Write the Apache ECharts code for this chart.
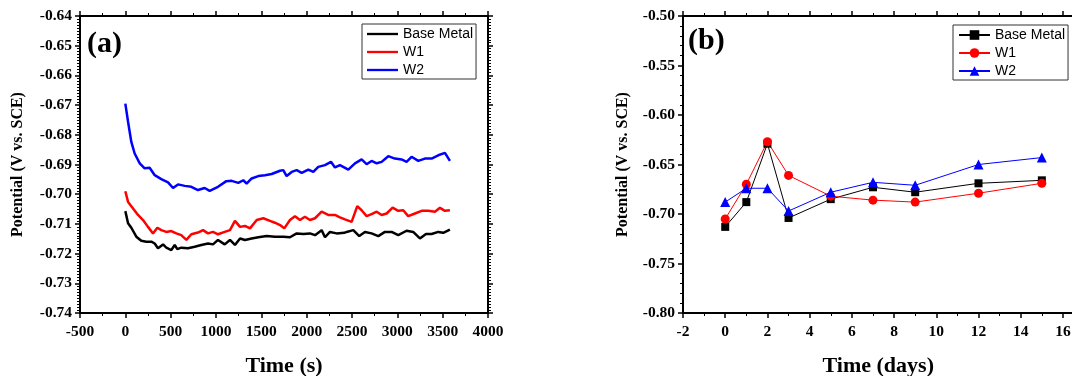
<!DOCTYPE html>
<html>
<head>
<meta charset="utf-8">
<script src="https://cdn.jsdelivr.net/npm/echarts@6/dist/echarts.min.js"></script>
<style>
  html, body { margin: 0; padding: 0; background: #fff; overflow: hidden; }
  #wrap { position: relative; width: 1072px; height: 376px; overflow: hidden; }
  #chartA { position: absolute; left: 0; top: 0; width: 536px; height: 376px; }
  #chartB { position: absolute; left: 536px; top: 0; width: 546px; height: 376px; }
</style>
</head>
<body>
<div id="wrap">
  <div id="chartA"></div>
  <div id="chartB"></div>
</div>
<script>
// ---- panel (a): open circuit potential vs time (values in mV)
const tBase = [0, 30, 66, 121, 176, 231, 287, 324, 360, 416, 452, 507, 545, 573, 617, 691, 765, 838, 912, 967,
  1022, 1096, 1154, 1209, 1265, 1320, 1393, 1467, 1559, 1650, 1742, 1816, 1890, 1963, 2036, 2092, 2165, 2202, 2257, 2331,
  2415, 2441, 2514, 2580, 2643, 2716, 2790, 2863, 2937, 3010, 3102, 3175, 3249, 3316, 3378, 3451, 3506, 3580];
const vBase = [-705.7, -709.8, -711.3, -714.3, -715.7, -716, -716, -716.6, -718.2, -716.9, -718, -718.8, -717.1, -718.5, -718, -718.2, -717.7, -717.1, -716.6, -716.9,
  -715.4, -716.9, -715.4, -717.1, -714.9, -715.4, -714.9, -714.5, -714.1, -714.3, -714.3, -714.5, -713.2, -713.4, -713.2, -713.8, -712.1, -714.5, -712.7, -713.2,
  -713, -712.7, -712.1, -714.1, -712.7, -713.2, -714.1, -712.7, -712.7, -713.8, -712.3, -712.7, -714.9, -713.4, -713.4, -712.7, -713, -711.9];

const tW1 = [0, 30, 85, 140, 195, 250, 305, 353, 397, 452, 507, 562, 617, 673, 728, 801, 857, 912, 967, 1022,
  1096, 1154, 1209, 1265, 1320, 1375, 1449, 1522, 1595, 1650, 1706, 1753, 1816, 1871, 1926, 1981, 2036, 2092, 2165, 2238,
  2312, 2367, 2422, 2496, 2558, 2606, 2661, 2716, 2772, 2827, 2882, 2948, 3010, 3065, 3120, 3194, 3268, 3341, 3415, 3470, 3525, 3580];
const vW1 = [-699, -702.6, -704.8, -707, -708.7, -711, -713.2, -711.3, -712.1, -712.7, -712.4, -713.2, -713.8, -715.4, -713.5, -712.9, -712.1, -713.2, -712.7, -713.5,
  -712.7, -712.1, -709, -711, -710.7, -711.5, -708.7, -708.1, -709, -709.6, -710.4, -711.5, -708.7, -707.4, -708.7, -707.6, -708.7, -708.1, -705.9, -707,
  -707, -707.8, -708.5, -709.3, -704, -705.4, -707.4, -706.7, -705.9, -707, -706.5, -704.5, -705.6, -705.4, -707.4, -706.5, -705.6, -705.6, -705.9, -704.6, -705.6, -705.4];

const tW2 = [0, 30, 66, 103, 159, 213, 268, 324, 397, 471, 526, 581, 655, 728, 801, 875, 930, 1022, 1114, 1173,
  1246, 1301, 1338, 1393, 1467, 1540, 1614, 1706, 1742, 1779, 1835, 1890, 1945, 2018, 2073, 2128, 2202, 2268, 2312, 2367,
  2459, 2533, 2606, 2661, 2716, 2772, 2827, 2900, 2973, 3047, 3102, 3157, 3231, 3304, 3378, 3451, 3525, 3580];
const vW2 = [-669.5, -675.6, -682.4, -686.3, -689.6, -691.3, -691.1, -693.6, -694.9, -696, -697.9, -696.7, -697.2, -697.5, -698.6, -697.9, -698.9, -697.5, -695.6, -695.5,
  -696.2, -695.3, -696.4, -694.7, -693.9, -693.6, -693.2, -692.1, -691.9, -693.9, -692.5, -691.9, -692.8, -691.7, -692.5, -690.8, -690.2, -689.1, -691, -690.2,
  -691.7, -689.6, -688.3, -689.9, -688.8, -689.6, -689.1, -687.2, -688, -688.3, -689.1, -687.4, -688.8, -688, -688, -686.9, -686.1, -688.8];

// ---- panel (b): potential vs immersion days (V)
const days = [0, 1, 2, 3, 5, 7, 9, 12, 15];
const bBase = [-0.713, -0.688, -0.629, -0.704, -0.685, -0.673, -0.678, -0.669, -0.666];
const bW1 = [-0.705, -0.670, -0.627, -0.661, -0.682, -0.686, -0.688, -0.679, -0.669];
const bW2 = [-0.688, -0.674, -0.674, -0.697, -0.678, -0.668, -0.671, -0.650, -0.643];

const names = ['Base Metal', 'W1', 'W2'];
const colors = ['#000000', '#ff0000', '#0000ff'];

const serif = 'Liberation Serif';
const sans = 'Liberation Sans';

const pairs = (xs, ys, k) => xs.map((x, i) => [x, ys[i] / k]);

function frameAxes(dim, opts) {
  // bottom/left axis with labels + top/right mirror axis (ticks only)
  const common = {
    type: 'value',
    min: opts.min,
    max: opts.max,
    interval: opts.interval,
    splitLine: { show: false },
    axisLine: { show: true, onZero: false, lineStyle: { color: '#000', width: 2 } },
    axisTick: { show: true, inside: false, length: 5, lineStyle: { color: '#000', width: 1.5 } },
    minorTick: { show: true, splitNumber: opts.minor, length: 3, lineStyle: { color: '#000', width: 1 } },
  };
  const main = Object.assign({}, common, {
    position: dim === 'x' ? 'bottom' : 'left',
    axisLabel: {
      show: true,
      margin: dim === 'x' ? 11 : 8,
      color: '#000',
      fontFamily: serif,
      fontWeight: 'bold',
      fontSize: 15.5,
      showMaxLabel: opts.showMax !== false,
      formatter: opts.fmt,
    },
    name: opts.name,
    nameLocation: 'middle',
    nameGap: opts.nameGap,
    nameTextStyle: { color: '#000', fontFamily: serif, fontWeight: 'bold', fontSize: opts.nameSize },
  });
  const mirror = Object.assign({}, common, {
    position: dim === 'x' ? 'top' : 'right',
    axisLabel: { show: false },
  });
  return [main, mirror];
}

function lineSeries(name, color, data, extra) {
  return Object.assign({
    name: name,
    type: 'line',
    xAxisIndex: 0,
    yAxisIndex: 0,
    data: data,
    color: color,
    lineStyle: { color: color, width: 1 },
    itemStyle: { color: color },
    animation: false,
    z: 3,
  }, extra);
}

const legendBase = {
  orient: 'vertical',
  top: 24,
  itemWidth: 31,
  itemHeight: 14,
  itemGap: 4,
  padding: [3, 3, 2, 5],
  borderColor: '#333',
  borderWidth: 1,
  backgroundColor: '#fff',
  textStyle: { fontFamily: sans, fontSize: 14, color: '#000' },
  data: names,
};

// plain line sample for the time-trace legend
const lineIcon = 'path://M0,0H40V3H0Z';

// ---------- chart (a)
const chartA = echarts.init(document.getElementById('chartA'), null, { renderer: 'canvas' });
chartA.setOption({
  backgroundColor: '#fff',
  animation: false,
  grid: { left: 80, top: 16, width: 408, height: 297, outerBoundsMode: 'none', containLabel: false },
  xAxis: frameAxes('x', {
    min: -500, max: 4000, interval: 500, minor: 2,
    fmt: v => String(v),
    name: 'Time (s)', nameGap: 42, nameSize: 22,
  }),
  yAxis: frameAxes('y', {
    min: -0.74, max: -0.64, interval: 0.01, minor: 10,
    fmt: v => v.toFixed(2),
    name: 'Potential (V vs. SCE)', nameGap: 54, nameSize: 16,
  }),
  legend: Object.assign({}, legendBase, {
    left: 362,
    data: names.map(n => ({ name: n, icon: lineIcon })),
  }),
  graphic: [{
    type: 'text', left: 87, top: 29,
    style: { text: '(a)', fontFamily: serif, fontWeight: 'bold', fontSize: 30, fill: '#000' },
  }],
  series: [
    lineSeries(names[0], colors[0], pairs(tBase, vBase, 1000), { showSymbol: false, symbol: 'none', lineStyle: { color: colors[0], width: 2.5 } }),
    lineSeries(names[1], colors[1], pairs(tW1, vW1, 1000), { showSymbol: false, symbol: 'none', lineStyle: { color: colors[1], width: 2.5 } }),
    lineSeries(names[2], colors[2], pairs(tW2, vW2, 1000), { showSymbol: false, symbol: 'none', lineStyle: { color: colors[2], width: 2.5 } }),
  ],
});

// ---------- chart (b)
const chartB = echarts.init(document.getElementById('chartB'), null, { renderer: 'canvas' });
chartB.setOption({
  backgroundColor: '#fff',
  animation: false,
  grid: { left: 147, top: 16, width: 390.5, height: 297, outerBoundsMode: 'none', containLabel: false },
  xAxis: frameAxes('x', {
    min: -2, max: 16.5, interval: 2, minor: 2, showMax: false,
    fmt: v => String(v),
    name: 'Time (days)', nameGap: 42, nameSize: 22,
  }),
  yAxis: frameAxes('y', {
    min: -0.8, max: -0.5, interval: 0.05, minor: 5,
    fmt: v => v.toFixed(2),
    name: 'Potential (V vs. SCE)', nameGap: 52, nameSize: 16,
  }),
  legend: Object.assign({}, legendBase, { left: 417, top: 25, itemHeight: 12 }),
  graphic: [{
    type: 'text', left: 152, top: 26,
    style: { text: '(b)', fontFamily: serif, fontWeight: 'bold', fontSize: 30, fill: '#000' },
  }],
  series: [
    lineSeries(names[0], colors[0], pairs(days, bBase, 1), { symbol: 'rect', symbolSize: 8 }),
    lineSeries(names[1], colors[1], pairs(days, bW1, 1), { symbol: 'circle', symbolSize: 9 }),
    lineSeries(names[2], colors[2], pairs(days, bW2, 1), { symbol: 'triangle', symbolSize: 10 }),
  ],
});
</script>
</body>
</html>
